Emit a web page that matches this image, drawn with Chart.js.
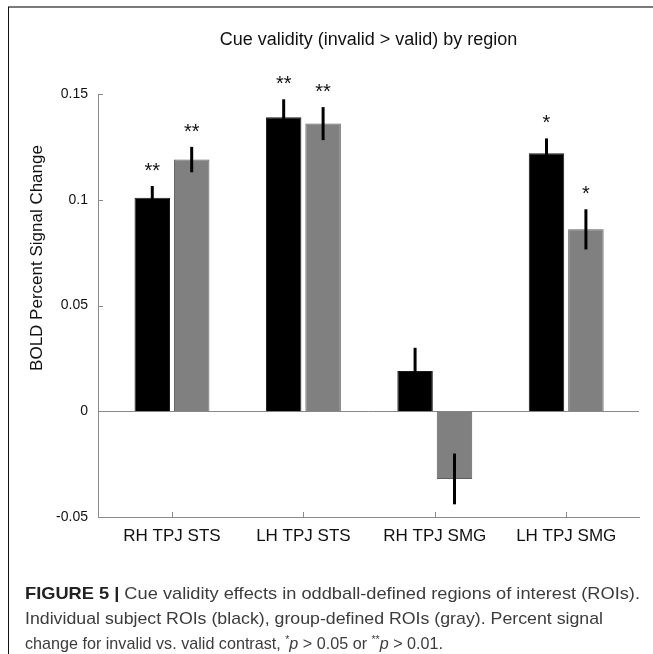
<!DOCTYPE html>
<html>
<head>
<meta charset="utf-8">
<script src="https://cdn.jsdelivr.net/npm/chart.js@4/dist/chart.umd.min.js"></script>
<style>
  html, body { margin: 0; padding: 0; background: #fff; }
  #wrap { position: relative; width: 653px; height: 654px; overflow: hidden; }
  #c { position: absolute; left: 0; top: 0; }
  #frameTop { position: absolute; left: 8px; top: 6px; width: 645px; height: 0; border-top: 2px solid #7a7a7a; }
  #frameLeft { position: absolute; left: 8px; top: 7px; width: 0; height: 647px; border-left: 1px solid #111; }
  #cap { position: absolute; left: 25px; top: 581px; font-family: 'Liberation Sans', Arial, sans-serif; font-size: 17px; color: #3c3c3c; line-height: 25px; white-space: nowrap; }
  #cap .ln { display: block; width: max-content; transform-origin: 0 50%; }
  #cap b { color: #222; }
  #cap sup { font-size: 0.65em; vertical-align: 0.55em; line-height: 0; }
</style>
</head>
<body>
<div id="wrap">
  <canvas id="c" width="653" height="654"></canvas>
  <div id="frameTop"></div>
  <div id="frameLeft"></div>
  <div id="cap">
    <span class="ln" data-w="615"><b>FIGURE 5</b> <b>|</b> Cue validity effects in oddball-defined regions of interest (ROIs).</span>
    <span class="ln" data-w="578">Individual subject ROIs (black), group-defined ROIs (gray). Percent signal</span>
    <span class="ln" data-w="418">change for invalid vs. valid contrast, <sup>*</sup><i>p</i> &gt; 0.05 or <sup>**</sup><i>p</i> &gt; 0.01.</span>
  </div>
</div>
<script>
// ---- data ----
const categories = ['RH TPJ STS', 'LH TPJ STS', 'RH TPJ SMG', 'LH TPJ SMG'];
const seriesNames = ['Individual subject ROIs', 'Group-defined ROIs'];
const individualValues = [0.101, 0.139, 0.019, 0.122];
const individualErrors = [0.0055, 0.0085, 0.011, 0.007];
const groupValues = [0.119, 0.136, -0.032, 0.086];
const groupErrors = [0.006, 0.0078, 0.012, 0.0095];
const individualStars = ['**', '**', '', '*'];
const groupStars = ['**', '**', '', '*'];
const yTickValues = [-0.05, 0, 0.05, 0.1, 0.15];
const yTickLabels = ['-0.05', '0', '0.05', '0.1', '0.15'];

const valuesBySeries = [individualValues, groupValues];
const errorsBySeries = [individualErrors, groupErrors];
const starsBySeries = [individualStars, groupStars];

const FONT = "'Liberation Sans', Arial, sans-serif";

// fit caption lines to the widths seen in the reference
document.querySelectorAll('#cap .ln').forEach(el => {
  const w = el.getBoundingClientRect().width;
  const target = parseFloat(el.dataset.w);
  el.style.transform = 'scaleX(' + (target / w) + ')';
});

const overlay = {
  id: 'overlay',
  beforeDatasetsDraw(chart) {
    const { ctx, chartArea: a, scales: { y } } = chart;
    const y0 = Math.round(y.getPixelForValue(0)) + 0.5;
    ctx.save();
    ctx.strokeStyle = '#8a8a8a';
    ctx.lineWidth = 1;
    ctx.beginPath();
    ctx.moveTo(a.left, y0);
    ctx.lineTo(a.right, y0);
    ctx.stroke();
    ctx.restore();
  },
  afterDatasetsDraw(chart) {
    const { ctx, chartArea: a, scales: { x, y } } = chart;
    ctx.save();
    // inward tick marks
    ctx.strokeStyle = '#8a8a8a';
    ctx.lineWidth = 1;
    ctx.beginPath();
    yTickValues.forEach(v => {
      const py = Math.round(y.getPixelForValue(v)) + 0.5;
      ctx.moveTo(a.left, py);
      ctx.lineTo(a.left + 5, py);
    });
    categories.forEach((c, i) => {
      const px = Math.round(x.getPixelForValue(i + 1)) + 0.5;
      ctx.moveTo(px, a.bottom);
      ctx.lineTo(px, a.bottom - 5);
    });
    ctx.stroke();
    // error bars and stars
    chart.data.datasets.forEach((ds, di) => {
      const meta = chart.getDatasetMeta(di);
      meta.data.forEach((bar, i) => {
        const v = valuesBySeries[di][i];
        const e = errorsBySeries[di][i];
        const top = y.getPixelForValue(v + e);
        const bot = y.getPixelForValue(v - e);
        ctx.strokeStyle = '#000';
        ctx.lineWidth = 3;
        ctx.beginPath();
        ctx.moveTo(bar.x, top);
        ctx.lineTo(bar.x, bot);
        ctx.stroke();
        const s = starsBySeries[di][i];
        if (s) {
          ctx.fillStyle = '#111';
          ctx.font = '20px ' + FONT;
          ctx.textAlign = 'center';
          ctx.textBaseline = 'alphabetic';
          ctx.fillText(s, bar.x, Math.min(top, y.getPixelForValue(v)) - 9);
        }
      });
    });
    // y axis title
    ctx.fillStyle = '#111';
    ctx.font = '17px ' + FONT;
    ctx.textAlign = 'center';
    ctx.textBaseline = 'middle';
    ctx.translate(37, 258);
    ctx.rotate(-Math.PI / 2);
    ctx.fillText('BOLD Percent Signal Change', 0, 0);
    ctx.restore();
  }
};

new Chart(document.getElementById('c'), {
  type: 'bar',
  data: {
    datasets: [
      {
        label: seriesNames[0],
        data: individualValues.map((v, i) => ({ x: i + 1, y: v })),
        backgroundColor: '#000000',
        borderColor: '#1a1a1a',
        borderWidth: 1,
        barPercentage: 0.9,
        categoryPercentage: 0.6
      },
      {
        label: seriesNames[1],
        data: groupValues.map((v, i) => ({ x: i + 1, y: v })),
        backgroundColor: '#808080',
        borderColor: '#5e5e5e',
        borderWidth: 1,
        barPercentage: 0.9,
        categoryPercentage: 0.6
      }
    ]
  },
  options: {
    responsive: false,
    animation: false,
    devicePixelRatio: 1,
    layout: { padding: { left: 0, right: 14, top: 0, bottom: 97 } },
    plugins: {
      legend: { display: false },
      tooltip: { enabled: false },
      title: {
        display: true,
        fullSize: false,
        text: 'Cue validity (invalid > valid) by region',
        color: '#111',
        font: { family: FONT, size: 18, weight: 'normal', lineHeight: 1.2 },
        padding: { top: 29, bottom: 43.4 }
      }
    },
    scales: {
      x: {
        type: 'linear',
        offset: false,
        min: 0.437,
        max: 4.554,
        grid: { display: false, drawTicks: false },
        border: { display: true, color: '#8a8a8a', width: 1 },
        afterBuildTicks: s => { s.ticks = categories.map((c, i) => ({ value: i + 1 })); },
        afterFit: s => { s.height = 40; },
        ticks: {
          padding: 9,
          maxRotation: 0,
          autoSkip: false,
          color: '#111',
          font: { family: FONT, size: 17 },
          callback: v => categories[Math.round(v) - 1]
        }
      },
      y: {
        min: -0.05,
        max: 0.15,
        grid: { display: false, drawTicks: false },
        border: { display: true, color: '#8a8a8a', width: 1 },
        afterBuildTicks: s => { s.ticks = yTickValues.map(v => ({ value: v })); },
        afterFit: s => { s.width = 98; },
        ticks: {
          padding: 10,
          color: '#111',
          font: { family: FONT, size: 14 },
          callback: v => yTickLabels[yTickValues.findIndex(t => Math.abs(t - v) < 1e-9)]
        }
      }
    }
  },
  plugins: [overlay]
});
</script>
</body>
</html>
